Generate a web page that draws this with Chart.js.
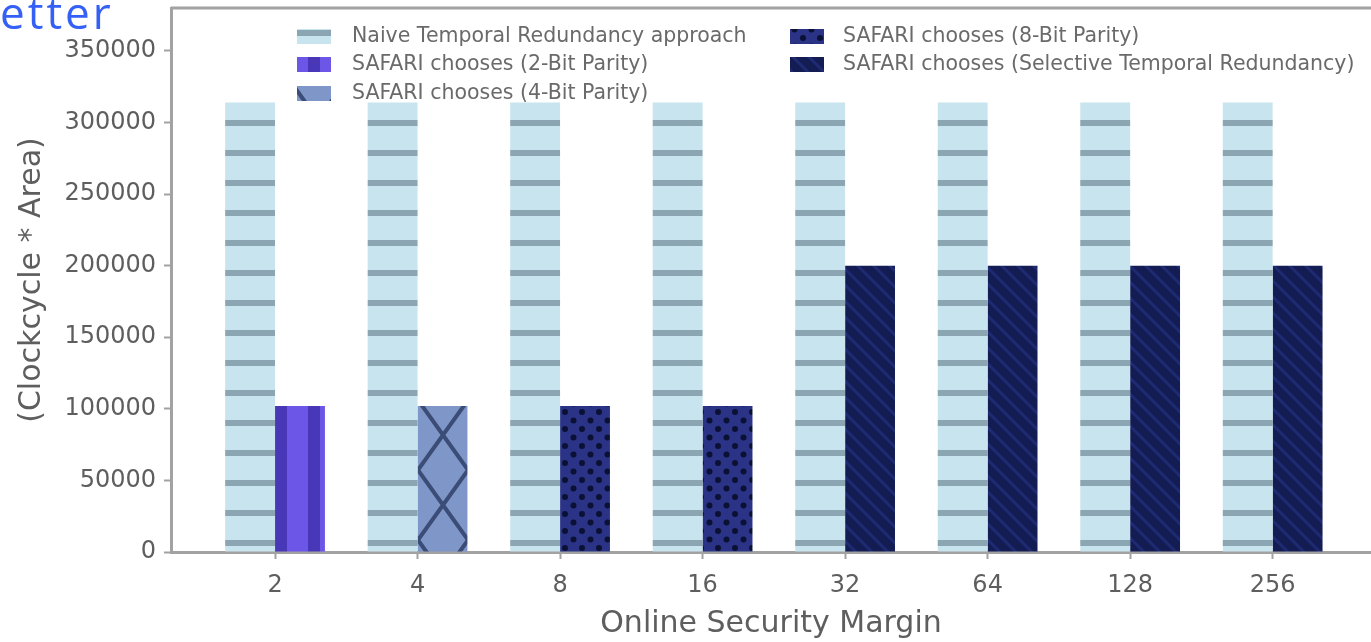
<!DOCTYPE html>
<html>
<head>
<meta charset="utf-8">
<script src="https://cdn.jsdelivr.net/npm/chart.js@4.4.1/dist/chart.umd.min.js"></script>
<style>
  html, body { margin: 0; padding: 0; background: #fff; overflow: hidden; }
  #wrap { position: relative; width: 1371px; height: 642px; }
  #corner {
    position: absolute; left: 0; top: -18px;
    font: 44px "Open Sans", sans-serif; letter-spacing: 3px; color: #3560f5;
  }
</style>
</head>
<body>
<div id="wrap">
  <canvas id="chart" width="1371" height="642"></canvas>
  <div id="corner">etter</div>
</div>
<script>
// security margins on the x axis
const MARGINS = ["2", "4", "8", "16", "32", "64", "128", "256"];

// cost in clockcycle * area
const NAIVE = [314000, 314000, 314000, 314000, 314000, 314000, 314000, 314000];
const PARITY_2 = [102000, null, null, null, null, null, null, null];
const PARITY_4 = [null, 102000, null, null, null, null, null, null];
const PARITY_8 = [null, null, 102000, 102000, null, null, null, null];
const SELECTIVE = [null, null, null, null, 200000, 200000, 200000, 200000];

const SERIES_NAMES = [
  "Naive Temporal Redundancy approach",
  "SAFARI chooses (2-Bit Parity)",
  "SAFARI chooses (4-Bit Parity)",
  "SAFARI chooses (8-Bit Parity)",
  "SAFARI chooses (Selective Temporal Redundancy)",
];

const Y_TICKS = [0, 50000, 100000, 150000, 200000, 250000, 300000, 350000];

const FONT = '"DejaVu Sans", sans-serif';
const INK = "#5e5e5e";
const AXIS = "#a2a2a2";

function tile(w, h, draw) {
  const c = document.createElement("canvas");
  c.width = w;
  c.height = h;
  draw(c.getContext("2d"), w, h);
  return c;
}

function makePattern(canvas, tx, ty) {
  const p = document.getElementById("chart").getContext("2d").createPattern(canvas, "repeat");
  if (tx || ty) p.setTransform(new DOMMatrix([1, 0, 0, 1, tx || 0, ty || 0]));
  return p;
}

// horizontal hatch on light blue
const naiveFill = makePattern(tile(30, 30, (g, w, h) => {
  g.fillStyle = "#c8e5ef";
  g.fillRect(0, 0, w, h);
  g.fillStyle = "#8ba5b2";
  g.fillRect(0, 0, w, 6);
}));

// vertical stripes on purple
const parity2Fill = makePattern(tile(33, 10, (g, w, h) => {
  g.fillStyle = "#6b56e8";
  g.fillRect(0, 0, w, h);
  g.fillStyle = "#4837b6";
  g.fillRect(0, 0, 12, h);
}), 275, 0);

// large x hatch on steel blue
const parity4Fill = makePattern(tile(50, 70, (g, w, h) => {
  g.fillStyle = "#7f96c8";
  g.fillRect(0, 0, w, h);
  g.strokeStyle = "#3b4d76";
  g.lineWidth = 4;
  g.beginPath();
  g.moveTo(0, 0); g.lineTo(w, h);
  g.moveTo(w, 0); g.lineTo(0, h);
  g.stroke();
}), 418, 50);

// dots on navy
const parity8Fill = makePattern(tile(17, 17, (g, w, h) => {
  g.fillStyle = "#2a3386";
  g.fillRect(0, 0, w, h);
  g.fillStyle = "#0b1134";
  g.beginPath();
  g.arc(4, 4, 3, 0, Math.PI * 2);
  g.arc(12.5, 12.5, 3, 0, Math.PI * 2);
  g.fill();
}));

// faint diagonal hatch on dark navy
const selectiveFill = makePattern(tile(16, 16, (g, w, h) => {
  g.fillStyle = "#141c54";
  g.fillRect(0, 0, w, h);
  g.strokeStyle = "#1e2a72";
  g.lineWidth = 3;
  g.beginPath();
  g.moveTo(-4, -4); g.lineTo(w + 4, h + 4);
  g.moveTo(-4, h - 4); g.lineTo(4, h + 4);
  g.moveTo(w - 4, -4); g.lineTo(w + 4, 4);
  g.stroke();
}));

const FILLS = [naiveFill, parity2Fill, parity4Fill, parity8Fill, selectiveFill];
const SERIES = [NAIVE, PARITY_2, PARITY_4, PARITY_8, SELECTIVE];

const points = (values) => values.map((v, i) => ({ x: i, y: v }));

// matplotlib style legend, two columns filled column first
const LEGEND_SLOTS = [
  { x: 297, y: 36, tx: 352 },
  { x: 297, y: 64, tx: 352 },
  { x: 297, y: 93, tx: 352 },
  { x: 790, y: 36, tx: 843 },
  { x: 790, y: 64, tx: 843 },
];

const legendPlugin = {
  id: "columnLegend",
  afterDraw(chart) {
    const ctx = chart.ctx;
    ctx.save();
    ctx.font = "20.5px " + FONT;
    ctx.textBaseline = "middle";
    LEGEND_SLOTS.forEach((s, i) => {
      ctx.fillStyle = FILLS[i];
      ctx.fillRect(s.x, s.y - 7, 34, 15);
      ctx.fillStyle = "#6a6a6a";
      ctx.fillText(SERIES_NAMES[i], s.tx, s.y + 1);
    });
    ctx.restore();
  },
};

// top spine only, the right one sits outside the picture
const framePlugin = {
  id: "frame",
  afterDraw(chart) {
    const { ctx, chartArea: a } = chart;
    ctx.save();
    ctx.strokeStyle = AXIS;
    ctx.lineWidth = 3;
    ctx.beginPath();
    ctx.moveTo(a.left, a.top);
    ctx.lineTo(chart.width, a.top);
    ctx.stroke();
    ctx.restore();
  },
};

new Chart(document.getElementById("chart"), {
  type: "bar",
  data: {
    datasets: SERIES.map((values, i) => ({
      label: SERIES_NAMES[i],
      data: points(values),
      backgroundColor: FILLS[i],
      borderWidth: 0,
    })),
  },
  options: {
    responsive: false,
    animation: false,
    devicePixelRatio: 1,
    skipNull: true,
    categoryPercentage: 0.7,
    barPercentage: 1.0,
    layout: { padding: { top: 8, right: 0, left: 0, bottom: 0 } },
    plugins: { legend: { display: false }, tooltip: { enabled: false } },
    scales: {
      x: {
        type: "linear",
        offset: false,
        min: -0.73,
        max: 7.69,
        afterBuildTicks: (axis) => {
          axis.ticks = MARGINS.map((_, i) => ({ value: i }));
        },
        afterFit: (axis) => {
          axis.height = 90;
          axis.paddingLeft = 0;
          axis.paddingRight = 0;
        },
        ticks: {
          callback: (v) => MARGINS[v],
          color: INK,
          font: { family: FONT, size: 24 },
          padding: 12,
          maxRotation: 0,
          autoSkip: false,
        },
        grid: {
          offset: false,
          drawOnChartArea: false,
          tickLength: 7,
          tickWidth: 2,
          tickColor: AXIS,
        },
        border: { display: true, color: AXIS, width: 3 },
        title: {
          display: true,
          text: "Online Security Margin",
          color: INK,
          font: { family: FONT, size: 30 },
          padding: { top: 0, bottom: 0 },
        },
      },
      y: {
        min: 0,
        max: 380000,
        afterBuildTicks: (axis) => {
          axis.ticks = Y_TICKS.map((v) => ({ value: v }));
        },
        afterFit: (axis) => {
          axis.width = 171;
          axis.paddingTop = 0;
          axis.paddingBottom = 0;
        },
        ticks: {
          callback: (v) => String(v),
          color: INK,
          font: { family: FONT, size: 24 },
          padding: 8,
        },
        grid: {
          drawOnChartArea: false,
          tickLength: 7,
          tickWidth: 2,
          tickColor: AXIS,
        },
        border: { display: true, color: AXIS, width: 3 },
        title: {
          display: true,
          text: "(Clockcycle * Area)",
          color: INK,
          font: { family: FONT, size: 30 },
          padding: { top: 14, bottom: 0 },
        },
      },
    },
  },
  plugins: [legendPlugin, framePlugin],
});
</script>
</body>
</html>
